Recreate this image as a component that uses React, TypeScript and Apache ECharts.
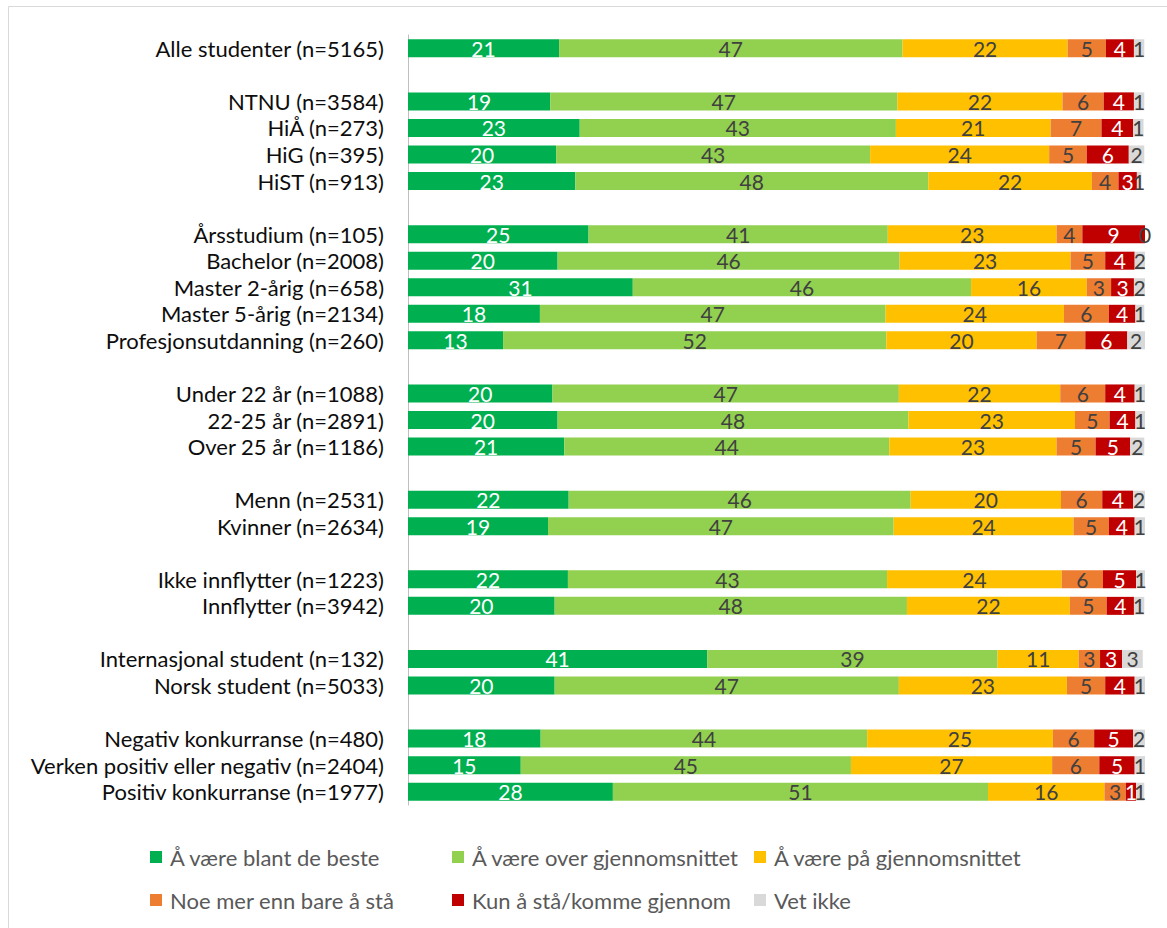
import React, { useEffect, useRef } from "react";
import * as echarts from "echarts";

const categories = [
  "Alle studenter (n=5165)",
  "",
  "NTNU (n=3584)",
  "HiÅ (n=273)",
  "HiG (n=395)",
  "HiST (n=913)",
  "",
  "Årsstudium (n=105)",
  "Bachelor (n=2008)",
  "Master 2-årig (n=658)",
  "Master 5-årig (n=2134)",
  "Profesjonsutdanning (n=260)",
  "",
  "Under 22 år (n=1088)",
  "22-25 år (n=2891)",
  "Over 25 år (n=1186)",
  "",
  "Menn (n=2531)",
  "Kvinner (n=2634)",
  "",
  "Ikke innflytter (n=1223)",
  "Innflytter (n=3942)",
  "",
  "Internasjonal student (n=132)",
  "Norsk student (n=5033)",
  "",
  "Negativ konkurranse (n=480)",
  "Verken positiv eller negativ (n=2404)",
  "Positiv konkurranse (n=1977)",
];

const seriesNames = [
  "Å være blant de beste",
  "Å være over gjennomsnittet",
  "Å være på gjennomsnittet",
  "Noe mer enn bare å stå",
  "Kun å stå/komme gjennom",
  "Vet ikke",
];

const blantDeBeste = [20.5, null, 19.3, 23.3, 20.1, 22.7, null, 24.5, 20.3, 30.5, 17.9, 12.9, null, 19.6, 20.3, 21.2, null, 21.8, 19.0, null, 21.7, 19.9, null, 40.6, 19.9, null, 18.0, 15.3, 27.8];
const overGjennomsnittet = [46.6, null, 47.1, 42.9, 42.6, 47.9, null, 40.6, 46.4, 45.9, 46.9, 52.0, null, 47.0, 47.6, 44.1, null, 46.4, 46.9, null, 43.3, 47.8, null, 39.4, 46.7, null, 44.3, 44.8, 50.9];
const paGjennomsnittet = [22.4, null, 22.4, 21.0, 24.3, 22.2, null, 22.9, 23.2, 15.7, 24.2, 20.4, null, 21.9, 22.6, 22.7, null, 20.4, 24.4, null, 23.7, 22.1, null, 11.0, 22.8, null, 25.2, 27.3, 15.8];
const noeMer = [5.2, null, 5.6, 6.9, 5.1, 3.6, null, 3.5, 4.7, 3.3, 6.1, 6.6, null, 6.1, 4.7, 5.3, null, 5.6, 4.8, null, 5.6, 5.0, null, 2.9, 5.2, null, 5.6, 6.4, 2.9];
const kunStaa = [3.8, null, 4.1, 4.3, 5.7, 2.5, null, 8.5, 4.0, 3.1, 3.6, 5.7, null, 4.0, 3.5, 4.7, null, 4.2, 3.5, null, 4.5, 3.7, null, 3.0, 4.0, null, 5.3, 4.8, 1.4];
const vetIkke = [1.4, null, 1.4, 1.4, 2.1, 0.6, null, 0.1, 1.6, 1.7, 1.2, 2.4, null, 1.4, 1.3, 1.9, null, 1.7, 1.4, null, 1.3, 1.4, null, 2.8, 1.4, null, 1.7, 1.4, 1.1];

const seriesValues = [blantDeBeste, overGjennomsnittet, paGjennomsnittet, noeMer, kunStaa, vetIkke];
const seriesColors = ["#00B050", "#92D050", "#FFC000", "#ED7D31", "#C00000", "#D9D9D9"];
const labelColors = ["#ffffff", "#404040", "#404040", "#404040", "#ffffff", "#404040"];

const FONT = "Lato";

export default function App() {
  const ref = useRef<HTMLDivElement>(null);

  useEffect(() => {
    if (!ref.current) return;
    const chart = echarts.init(ref.current, null, { renderer: "svg" });

    const legendLefts = [150, 452, 754];
    const option: any = {
      animation: false,
      backgroundColor: "#ffffff",
      graphic: [
        {
          type: "rect",
          x: 8.5,
          y: 6.5,
          shape: { x: 0, y: 0, width: 1200, height: 1000 },
          style: { fill: "none", stroke: "#d9d9d9", lineWidth: 1 },
          silent: true,
          z: -10,
        },
      ],
      grid: { left: 408, top: 35, width: 737, height: 770, containLabel: false },
      xAxis: {
        type: "value",
        min: 0,
        max: 100,
        show: false,
      },
      yAxis: {
        type: "category",
        inverse: true,
        data: categories,
        axisLine: { show: true, lineStyle: { color: "#bfbfbf", width: 1 } },
        axisTick: { show: false },
        splitLine: { show: false },
        axisLabel: {
          interval: 0,
          margin: 24,
          fontFamily: FONT,
          fontSize: 22,
          color: "#0d0d0d",
        },
      },
      legend: legendLefts.map((left, i) => ({
        orient: "vertical",
        left,
        top: 846,
        padding: 0,
        itemGap: 21,
        itemWidth: 12,
        itemHeight: 12,
        icon: "rect",
        selectedMode: false,
        textStyle: {
          fontFamily: FONT,
          fontSize: 22,
          color: "#595959",
          padding: [0, 0, 0, 3],
        },
        data: [seriesNames[i], seriesNames[i + 3]],
      })),
      series: seriesNames.map((name, i) => ({
        type: "bar",
        name,
        stack: "total",
        data: seriesValues[i],
        barWidth: 18,
        itemStyle: { color: seriesColors[i] },
        emphasis: { disabled: true },
        label: {
          show: true,
          position: "inside",
          formatter: (p: any) => String(Math.round(p.value)),
          color: labelColors[i],
          fontFamily: FONT,
          fontSize: 21,
        },
      })),
    };

    chart.setOption(option);
    return () => chart.dispose();
  }, []);

  return (
    <div
      ref={ref}
      style={{ position: "absolute", left: 0, top: 0, width: 1167, height: 928 }}
    />
  );
}
